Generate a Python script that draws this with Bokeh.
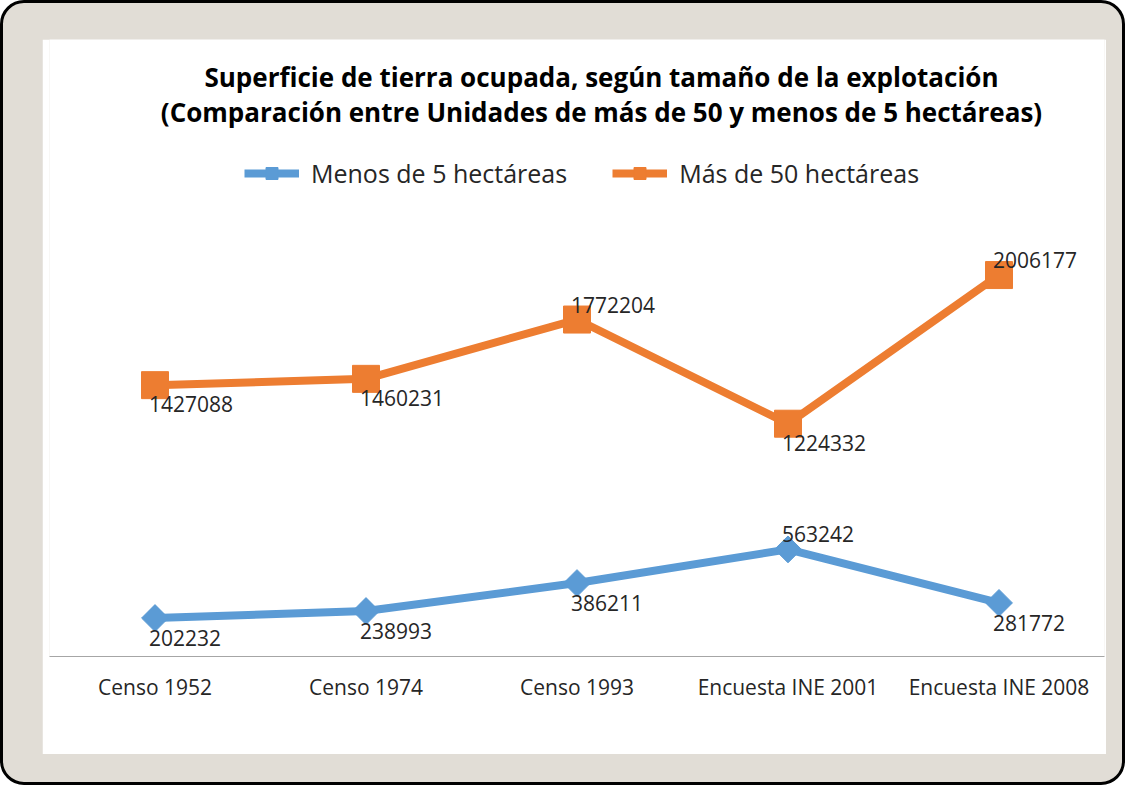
import math
from bokeh.plotting import figure
from bokeh.models import (ColumnDataSource, Range1d, FactorRange, Legend,
                          LegendItem, Label, LabelSet)
from bokeh.core.properties import value
from bokeh.layouts import column
from bokeh.embed import file_html
from bokeh.resources import INLINE

# ---------------- data ----------------
categories = ["Censo 1952", "Censo 1974", "Censo 1993",
              "Encuesta INE 2001", "Encuesta INE 2008"]
menos_5 = [202232, 238993, 386211, 563242, 281772]
mas_50 = [1427088, 1460231, 1772204, 1224332, 2006177]
series_names = ["Menos de 5 hectáreas", "Más de 50 hectáreas"]
title_lines = ["Superficie de tierra ocupada, según tamaño de la explotación",
               "(Comparación entre Unidades de más de 50 y menos de 5 hectáreas)"]
# placement of the data labels (style, not data)
menos_5_label_pos = ["below", "below", "below", "above", "below"]
mas_50_label_pos = ["below", "below", "above", "below", "above"]

BLUE = "#5b9bd5"
ORANGE = "#ed7d31"
TEXT = "#262626"
FONT = "Open Sans"

p = figure(width=1064, height=715,
           x_range=FactorRange(*categories, range_padding=0),
           y_range=Range1d(0, 3245000),
           output_backend="svg", toolbar_location=None,
           min_border_left=7, min_border_right=2,
           min_border_top=0, min_border_bottom=98)
p.background_fill_color = "white"
p.border_fill_color = "white"
p.outline_line_color = None
p.xgrid.visible = False
p.ygrid.visible = False
p.yaxis.visible = False

xa = p.xaxis[0]
xa.axis_line_color = "#a6a6a6"
xa.axis_line_width = 1
xa.major_tick_line_color = None
xa.minor_tick_line_color = None
xa.major_label_standoff = 10
xa.major_label_text_font = FONT
xa.major_label_text_font_size = "21px"
xa.major_label_text_color = TEXT

src_b = ColumnDataSource(dict(x=categories, y=menos_5,
                              t=[str(v) for v in menos_5],
                              off=[15 if s == "above" else -20 for s in menos_5_label_pos]))
src_o = ColumnDataSource(dict(x=categories, y=mas_50,
                              t=[str(v) for v in mas_50],
                              off=[15 if s == "above" else -19 for s in mas_50_label_pos]))

lb = p.line("x", "y", source=src_b, line_width=8, color=BLUE, line_join="round")
sb = p.scatter("x", "y", source=src_b, marker="square", angle=math.pi / 4,
               size=19, color=BLUE)
lo = p.line("x", "y", source=src_o, line_width=8, color=ORANGE, line_join="round")
so = p.scatter("x", "y", source=src_o, marker="square", size=27, color=ORANGE)

for src in (src_b, src_o):
    p.add_layout(LabelSet(x="x", y="y", text="t", source=src,
                          x_offset=-6, y_offset="off",
                          text_align="left", text_baseline="middle",
                          text_font=value(FONT), text_font_size=value("21px"),
                          text_color=TEXT))

legend = Legend(items=[LegendItem(label=series_names[0], renderers=[lb, sb]),
                       LegendItem(label=series_names[1], renderers=[lo, so])],
                orientation="horizontal", location=(195, 466),
                glyph_width=55, glyph_height=30, label_height=30,
                label_standoff=12, spacing=45, padding=0, margin=0,
                border_line_color=None, background_fill_alpha=0,
                label_text_font=FONT, label_text_font_size="25px",
                label_text_color=TEXT)
p.add_layout(legend)

for txt, yy in zip(title_lines, [580, 545]):
    p.add_layout(Label(x=552, y=yy, x_units="screen", y_units="screen",
                       text=txt, text_align="center", text_baseline="middle",
                       text_font=FONT, text_font_style="bold",
                       text_font_size="26px", text_color="black"))

layout = column(p, styles={"background-color": "#e1ddd6",
                           "border": "3px solid #000",
                           "border-radius": "24px",
                           "padding": "36px 16px 28px 39px"})

open("out.html", "w").write(file_html(layout, INLINE))
